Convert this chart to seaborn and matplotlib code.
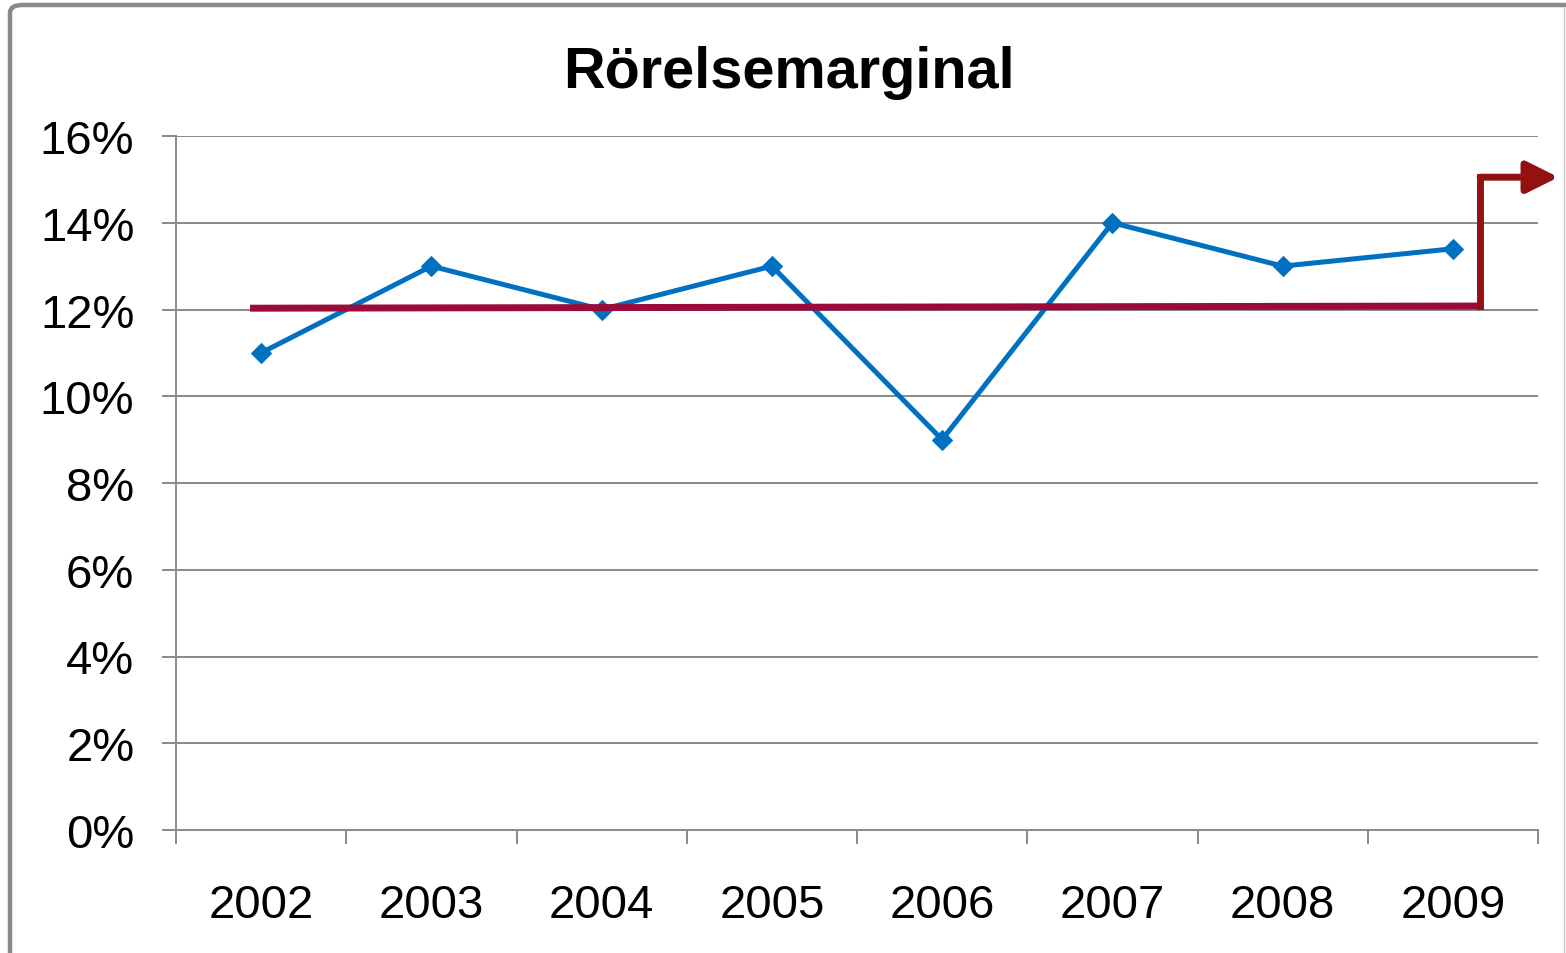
import matplotlib
matplotlib.use("Agg")
import matplotlib.pyplot as plt
import seaborn as sns
import pandas as pd
from matplotlib.patches import FancyBboxPatch
from matplotlib.lines import Line2D

# data
years = ["2002", "2003", "2004", "2005", "2006", "2007", "2008", "2009"]
margin = [11.0, 13.0, 12.0, 13.0, 9.0, 14.0, 13.0, 13.4]
# target arrow (red): horizontal level, then step up to the new level
target_x = [-0.065, 7.17]
target_y = [12.03, 12.08]
target_step_x = [7.16, 7.16, 7.62]
target_step_y = [12.08, 15.05, 15.05]
yticks = [0, 2, 4, 6, 8, 10, 12, 14, 16]

sns.set_theme(style="white")
plt.rcParams["font.family"] = ["Liberation Sans", "DejaVu Sans"]
plt.rcParams["text.color"] = "black"
plt.rcParams["xtick.color"] = "black"
plt.rcParams["ytick.color"] = "black"

df = pd.DataFrame({"idx": range(len(years)), "margin": margin})

fig = plt.figure(figsize=(15.66, 9.54), dpi=100)
ax = fig.add_axes([176 / 1566, 1 - 831 / 954, (1538 - 176) / 1566, (831 - 137) / 954])

for v in yticks[1:]:
    ax.axhline(v, color="#898989", lw=1.4, zorder=1)

sns.lineplot(data=df, x="idx", y="margin", ax=ax, color="#0070C0", lw=3.6,
             marker="D", markersize=10, markeredgecolor="#0070C0", zorder=3)

ax.plot(target_x, target_y, color="#9A0A3A", lw=5, solid_capstyle="butt", zorder=4)
ax.plot(target_step_x[:2], target_step_y[:2], color="#921212", lw=5,
        solid_capstyle="projecting", zorder=4, clip_on=False)
ax.annotate("", xy=(target_step_x[2], target_step_y[2]),
            xytext=(target_step_x[1], target_step_y[1]),
            arrowprops=dict(arrowstyle="-|>,head_length=1.6,head_width=0.8",
                            color="#921212", lw=5, shrinkA=0, shrinkB=0),
            annotation_clip=False, zorder=4)

ax.set_xlim(-0.5, len(years) - 0.5)
ax.set_ylim(0, 16)
ax.set_yticks(yticks)
ax.set_yticklabels([f"{v}%" for v in yticks], fontsize=34)
ax.set_xticks([i - 0.5 for i in range(len(years) + 1)])
ax.set_xticklabels([])
ax.set_xticks(range(len(years)), minor=True)
ax.set_xticklabels(years, minor=True, fontsize=34)
ax.tick_params(axis="x", which="major", length=10, width=1.4, color="#898989",
               direction="out", bottom=True)
ax.tick_params(axis="x", which="minor", length=0, pad=38)
ax.tick_params(axis="y", length=10, width=1.4, color="#898989",
               direction="out", left=True, pad=20)
ax.set_xlabel("")
ax.set_ylabel("")

for s in ["top", "right"]:
    ax.spines[s].set_visible(False)
for s in ["left", "bottom"]:
    ax.spines[s].set_color("#898989")
    ax.spines[s].set_linewidth(1.4)
    ax.spines[s].set_zorder(2)

fig.text(789 / 1566, 1 - 88 / 954, "Rörelsemarginal", ha="center", va="baseline",
         fontsize=41.5, fontweight="bold", color="black")

# chart frame
frame = FancyBboxPatch((10 / 1566, -0.1), 1.2, 1 - 6 / 954 + 0.1,
                       boxstyle="round,pad=0,rounding_size=0.008",
                       transform=fig.transFigure, fill=False,
                       edgecolor="#8a8a8a", lw=3.2)
fig.patches.append(frame)
fig.lines.append(Line2D([1564 / 1566, 1564 / 1566], [0, 1 - 8 / 954],
                        transform=fig.transFigure, color="#c8c8c8", lw=1))

fig.savefig("out.png", dpi=100)
